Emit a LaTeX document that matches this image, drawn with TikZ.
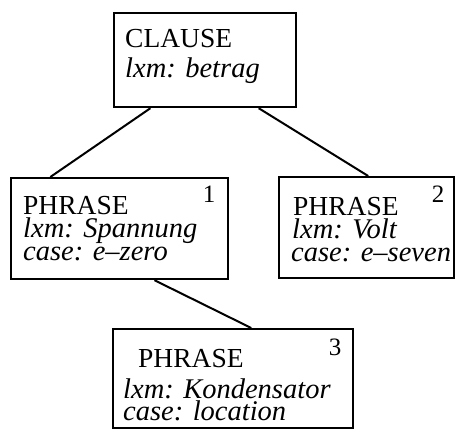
\documentclass[tikz,border=0pt]{standalone}
\usepackage{fontspec}
\setmainfont{Liberation Serif}
\usetikzlibrary{calc}
\begin{document}
\begin{tikzpicture}[x=1pt,y=-1pt,
  box/.style={draw, line width=2.2pt, rectangle, inner sep=0pt, anchor=north west},
  txt/.style={anchor=base west, inner sep=0pt, font=\fontsize{27.5}{27.5}\selectfont},
  itx/.style={anchor=base west, inner sep=0pt, font=\fontsize{28.5}{28.5}\selectfont\itshape},
  num/.style={anchor=base, inner sep=0pt, font=\fontsize{25}{25}\selectfont},
  link/.style={line width=2pt}]
\useasboundingbox (0,0) rectangle (455,429);

% boxes
\node[box, minimum width=182pt, minimum height=94pt]  (clause) at (113,12) {};
\node[box, minimum width=217pt, minimum height=101pt] (p1) at (10,177) {};
\node[box, minimum width=175pt, minimum height=101pt] (p2) at (278,176) {};
\node[box, minimum width=240pt, minimum height=99pt] (p3) at (112,328) {};

% CLAUSE contents
\node[txt] (clauseHead) at (125,47) {CLAUSE};
\node[itx] (clauseLxm) at (125,77) {lxm: betrag};

% phrase 1
\node[txt] (p1Head) at (23,214) {PHRASE};
\node[itx] (p1Lxm) at (23,237) {lxm: Spannung};
\node[itx] (p1Case) at (23,260) {case: e–zero};
\node[num] (p1Num) at (209,202) {1};

% phrase 2
\node[txt] (p2Head) at (293,215) {PHRASE};
\node[itx] (p2Lxm) at (292,238) {lxm: Volt};
\node[itx] (p2Case) at (291,261) {case: e–seven};
\node[num] (p2Num) at (438,202) {2};

% phrase 3
\node[txt] (p3Head) at (138,367) {PHRASE};
\node[itx] (p3Lxm) at (123,398) {lxm: Kondensator};
\node[itx] (p3Case) at (123,420) {case: location};
\node[num] (p3Num) at (335,355) {3};

% tree edges
\draw[link] ($(clause.south west)!0.203!(clause.south east)$) -- ($(p1.north west)!0.184!(p1.north east)$);
\draw[link] ($(clause.south west)!0.791!(clause.south east)$) -- ($(p2.north west)!0.509!(p2.north east)$);
\draw[link] ($(p1.south west)!0.659!(p1.south east)$) -- ($(p3.north west)!0.575!(p3.north east)$);
\end{tikzpicture}
\end{document}
